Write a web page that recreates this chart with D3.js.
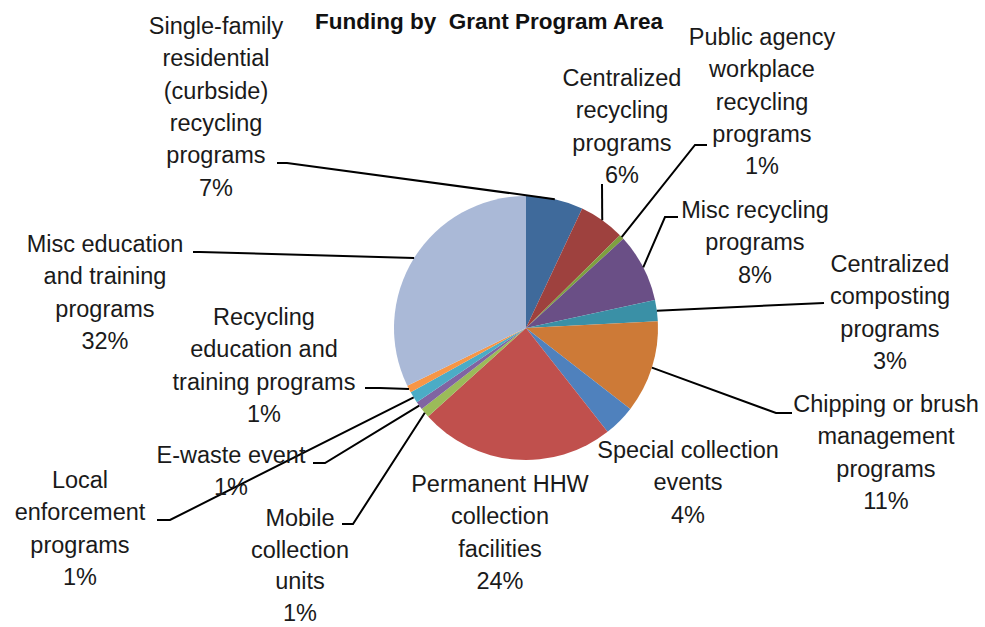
<!DOCTYPE html>
<html>
<head>
<meta charset="utf-8">
<script src="https://cdn.jsdelivr.net/npm/d3@7"></script>
<style>
  body { margin: 0; background: #fff; }
  svg { display: block; }
</style>
</head>
<body>
<svg class="FundingPie"></svg>
<script>
// Data (percent of funding), clockwise from 12 o'clock
const programs = [
    "Single-family\nresidential\n(curbside)\nrecycling\nprograms",
    "Centralized\nrecycling\nprograms",
    "Public agency\nworkplace\nrecycling\nprograms",
    "Misc recycling\nprograms",
    "Centralized\ncomposting\nprograms",
    "Chipping or brush\nmanagement\nprograms",
    "Special collection\nevents",
    "Permanent HHW\ncollection\nfacilities",
    "Mobile\ncollection\nunits",
    "E-waste event",
    "Local\nenforcement\nprograms",
    "Recycling\neducation and\ntraining programs",
    "Misc education\nand training\nprograms"
];
const shares = [7.0, 5.6, 0.6, 8.4, 2.6, 11.3, 3.9, 23.9, 1.2, 1.0, 1.4, 0.9, 32.2];
const sliceColors = ["#3f6a9b", "#9e413e", "#7ea040", "#6a4f86", "#3a90a6", "#cd7a37",
    "#4f81bd", "#c0504d", "#9bbb59", "#8064a2", "#4bacc6", "#f79646", "#aab9d7"];

// Label placement: text centre x, first baseline y, line gap, leader path near the label
const labelLayout = [
    { x: 216, y: 34, gap: 32.3, leader: [[287, 163], [277, 163]] },
    { x: 622, y: 86, gap: 32.3, leader: [[602, 184]] },
    { x: 762, y: 45, gap: 32.3, leader: [[695, 145], [707, 145]] },
    { x: 755, y: 218, gap: 32.3, leader: [[665, 217], [678, 217]] },
    { x: 890, y: 272, gap: 32.3, leader: [[824, 303]] },
    { x: 886, y: 412, gap: 32.3, leader: [[776, 413], [792, 413]] },
    { x: 688, y: 458, gap: 32.3, leader: null },
    { x: 500, y: 492, gap: 32.3, leader: null },
    { x: 300, y: 526, gap: 31.5, leader: [[353, 524], [342, 524]] },
    { x: 231, y: 463, gap: 32.3, leader: [[325, 463], [313, 463]] },
    { x: 80, y: 488, gap: 32.3, leader: [[170, 520], [157, 520]] },
    { x: 264, y: 325, gap: 32.3, leader: [[380, 388], [365, 388]] },
    { x: 105, y: 252, gap: 32.3, leader: [[200, 252], [193, 252]] }
];

const svgWidth = 985, svgHeight = 627;
const cx = 526, cy = 328, radius = 132;

const canvas = d3.select(".FundingPie")
    .attr("width", svgWidth)
    .attr("height", svgHeight);

// Title
canvas.append("text")
    .attr("x", 489)
    .attr("y", 29)
    .attr("text-anchor", "middle")
    .style("font-family", "'Liberation Sans', Arial, sans-serif")
    .style("font-weight", "bold")
    .style("font-size", "22.5px")
    .style("white-space", "pre")
    .attr("fill", "#111")
    .text("Funding by  Grant Program Area");

const data = programs.map((p, i) => ({ name: p, value: shares[i], color: sliceColors[i] }));

const pie = d3.pie().sort(null).value(d => d.value);
const arcs = pie(data);
const total = d3.sum(shares);

const arc = d3.arc().innerRadius(0).outerRadius(radius);

const plot = canvas.append("g")
    .attr("transform", `translate(${cx},${cy})`);

plot.selectAll("path.slice")
    .data(arcs)
    .enter().append("path")
    .attr("class", "slice")
    .attr("d", arc)
    .attr("fill", d => d.data.color);

// Leader lines from slice edge midpoint to label
const edgePoint = d => {
    const a = (d.startAngle + d.endAngle) / 2;
    return [cx + radius * Math.sin(a), cy - radius * Math.cos(a)];
};

const leaderLine = d3.line();
arcs.forEach((d, i) => {
    const lay = labelLayout[i];
    if (!lay.leader) return;
    const pts = [edgePoint(d)].concat(lay.leader);
    canvas.append("path")
        .attr("d", leaderLine(pts))
        .attr("fill", "none")
        .attr("stroke", "#000")
        .attr("stroke-width", 2);
});

// Labels
const fmt = v => Math.round(v / total * 100) + "%";
arcs.forEach((d, i) => {
    const lay = labelLayout[i];
    const lines = d.data.name.split("\n").concat([fmt(d.data.value)]);
    const t = canvas.append("text")
        .attr("text-anchor", "middle")
        .style("font-family", "'Liberation Sans', Arial, sans-serif")
        .style("font-size", "23.5px")
        .attr("fill", "#1a1a1a");
    lines.forEach((ln, j) => {
        t.append("tspan")
            .attr("x", lay.x)
            .attr("y", lay.y + j * lay.gap)
            .text(ln);
    });
});
</script>
</body>
</html>
